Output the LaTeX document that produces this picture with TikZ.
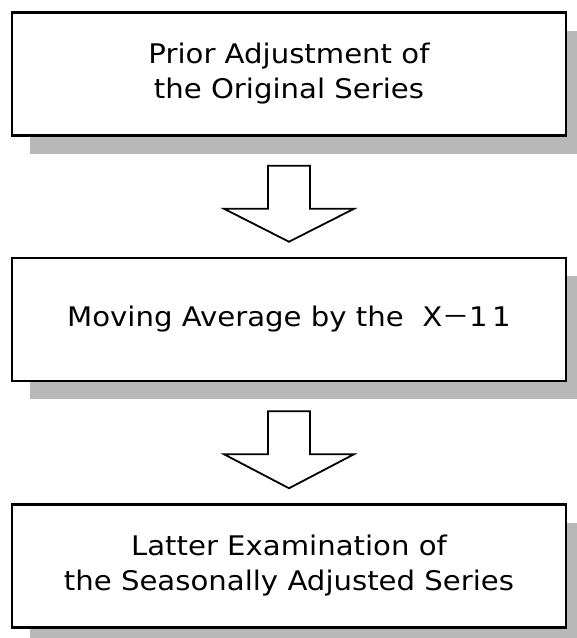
\documentclass[tikz,border=0pt]{standalone}
\usepackage{fontspec}
\setmainfont{DejaVu Sans}[FakeStretch=1.08]
\newfontfamily\cjk{Noto Sans CJK JP}
\usetikzlibrary{calc,shadows}

% hollow block arrow from the bottom of one box to the top of the next
\newcommand{\bigarrow}[2]{%
  \draw[hollow] ($(#1.south)+(-21,-29)$) -- ++(0,-43) -- ++(-44,0)
    -- ($(#2.north)+(0,15)$) -- ($(#1.south)+(65,-72)$) -- ++(-44,0)
    -- ++(0,43) -- cycle;}

\begin{document}
\begin{tikzpicture}[x=1pt, y=1pt,
  box/.style={draw, fill=white, line width=2.5pt, minimum width=554pt, minimum height=123pt,
    align=center, font=\fontsize{27}{35}\selectfont,
    drop shadow={shadow xshift=18pt, shadow yshift=-18pt, fill=black!28, opacity=1}},
  hollow/.style={draw, fill=white, line width=1.8pt, line join=miter}
]
\useasboundingbox (0,0) rectangle (577,-638);
\node[box] (prior) at (289,-74) {Prior Adjustment of\\the Original Series};
\node[box] (moving) at (289,-319.5) {Moving Average by the\ \ X{\cjk －}1\,1};
\node[box] (latter) at (289,-566) {Latter Examination of\\the Seasonally Adjusted Series};
\bigarrow{prior}{moving}
\bigarrow{moving}{latter}
\end{tikzpicture}
\end{document}
